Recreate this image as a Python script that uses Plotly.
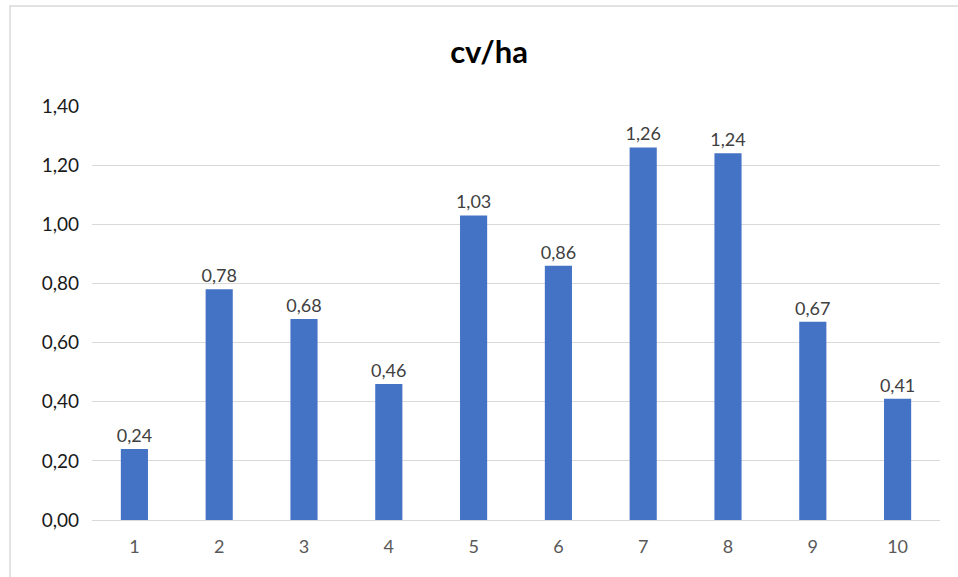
import plotly.graph_objects as go

categories = ["1", "2", "3", "4", "5", "6", "7", "8", "9", "10"]
values = [0.24, 0.78, 0.68, 0.46, 1.03, 0.86, 1.26, 1.24, 0.67, 0.41]
y_ticks = [0, 0.2, 0.4, 0.6, 0.8, 1.0, 1.2, 1.4]

W, H = 958, 577
L, R, T, B = 92, 18, 106, 57
pw, ph = W - L - R, H - T - B

fig = go.Figure(go.Bar(
    x=categories, y=values,
    marker=dict(color="#4472C4", line=dict(width=0)),
    texttemplate="%{y:.2f}", textposition="outside", constraintext="none",
    textfont=dict(family="Lato, Open Sans, sans-serif", size=18, color="#404040"),
    cliponaxis=False,
))

fig.update_layout(
    width=W, height=H,
    margin=dict(l=L, r=R, t=T, b=B),
    separators=",.",
    paper_bgcolor="white", plot_bgcolor="white",
    bargap=0.68,
    title=dict(text="<b>cv/ha</b>", x=489 / W, xanchor="center", y=1 - 52 / H, yanchor="middle",
               font=dict(family="Lato, Open Sans, sans-serif", size=31, color="black")),
    font=dict(family="Lato, Open Sans, sans-serif"),
    showlegend=False,
    xaxis=dict(showgrid=False, showline=True, linecolor="#d9d9d9", linewidth=1, ticks="",
               tickfont=dict(size=18, color="#595959"), ticklabelstandoff=10),
    yaxis=dict(range=[0, 1.4], tickvals=y_ticks, tickformat=".2f", showgrid=True,
               gridcolor="#d9d9d9", gridwidth=1, zeroline=False, showline=False,
               tickfont=dict(size=19, color="#1a1a1a"), ticklabelstandoff=12),
    shapes=[dict(type="rect", xref="paper", yref="paper",
                 x0=(10 - L) / pw, x1=1.2, y0=-0.3, y1=(H - B - 6) / ph,
                 line=dict(color="#d9d9d9", width=1.5), fillcolor="rgba(0,0,0,0)", layer="below")],
)

fig.write_html("out.html", config={"displayModeBar": False},
               post_script="document.body.style.margin='0';document.body.style.padding='0';")
